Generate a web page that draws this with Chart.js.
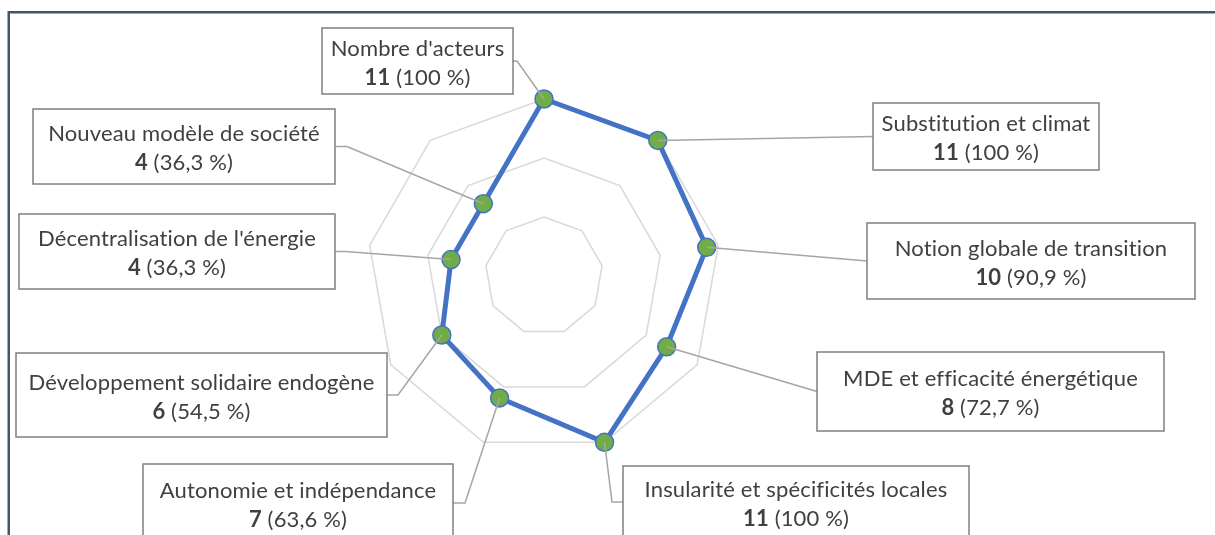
<!DOCTYPE html>
<html>
<head>
    <meta charset="utf-8">
    <script src="https://cdn.jsdelivr.net/npm/chart.js@4.4.1/dist/chart.umd.min.js"></script>
    <style>
        body { margin: 0; background: #ffffff; }
    </style>
</head>
<body>

    <canvas id="radarChart" width="1215" height="535"></canvas>

    <script>
        // données
        const categories = [
            "Nombre d'acteurs",
            "Substitution et climat",
            "Notion globale de transition",
            "MDE et efficacité énergétique",
            "Insularité et spécificités locales",
            "Autonomie et indépendance",
            "Développement solidaire endogène",
            "Décentralisation de l'énergie",
            "Nouveau modèle de société"
        ];
        const counts = [11, 11, 10, 8, 11, 7, 6, 4, 4];
        const percents = ["100", "100", "90,9", "72,7", "100", "63,6", "54,5", "36,3", "36,3"];
        const ringValues = [-4, 1, 6, 11];

        // placement des étiquettes (x, y, largeur, hauteur, côté du trait, longueur du coude)
        const labelBoxes = [
            { x: 322, y: 28,  w: 191, h: 66, side: 'right', stub: 4 },
            { x: 873, y: 103, w: 226, h: 67, side: 'left',  stub: 0 },
            { x: 867, y: 223, w: 328, h: 76, side: 'left',  stub: 0 },
            { x: 817, y: 352, w: 347, h: 79, side: 'left',  stub: 0 },
            { x: 623, y: 466, w: 346, h: 72, side: 'left',  stub: 11 },
            { x: 143, y: 464, w: 310, h: 78, side: 'right', stub: 12 },
            { x: 16,  y: 353, w: 371, h: 84, side: 'right', stub: 11 },
            { x: 19,  y: 214, w: 316, h: 75, side: 'right', stub: 10 },
            { x: 33,  y: 109, w: 302, h: 75, side: 'right', stub: 12 }
        ];

        const fontFamily = 'Lato, "Open Sans", sans-serif';
        const fontSize = 22;

        const calloutPlugin = {
            id: 'callouts',
            beforeDraw(chart) {
                const ctx = chart.ctx;
                ctx.save();
                ctx.strokeStyle = '#44546A';
                ctx.lineWidth = 2.5;
                ctx.beginPath();
                ctx.moveTo(8.75, 535);
                ctx.lineTo(8.75, 12.25);
                ctx.lineTo(1215, 12.25);
                ctx.stroke();
                ctx.restore();
            },
            afterDatasetsDraw(chart) {
                const ctx = chart.ctx;
                const points = chart.getDatasetMeta(0).data;
                ctx.save();

                // traits de rappel
                ctx.strokeStyle = '#A5A5A5';
                ctx.lineWidth = 1.5;
                points.forEach((pt, i) => {
                    const b = labelBoxes[i];
                    const ay = b.y + b.h / 2;
                    const ax = b.side === 'right' ? b.x + b.w : b.x;
                    const ex = b.side === 'right' ? ax + b.stub : ax - b.stub;
                    ctx.beginPath();
                    ctx.moveTo(pt.x, pt.y);
                    ctx.lineTo(ex, ay);
                    ctx.lineTo(ax, ay);
                    ctx.stroke();
                });

                // boîtes et textes
                ctx.letterSpacing = '0.15px';
                labelBoxes.forEach((b, i) => {
                    ctx.fillStyle = '#ffffff';
                    ctx.fillRect(b.x, b.y, b.w, b.h);
                    ctx.strokeStyle = '#7F7F7F';
                    ctx.lineWidth = 1.5;
                    ctx.strokeRect(b.x, b.y, b.w, b.h);

                    const cx = b.x + b.w / 2;
                    const cy = b.y + b.h / 2;
                    ctx.fillStyle = '#404040';
                    ctx.textBaseline = 'alphabetic';

                    ctx.font = fontSize + 'px ' + fontFamily;
                    ctx.textAlign = 'center';
                    ctx.fillText(categories[i], cx, cy - 5.5);

                    const boldTxt = String(counts[i]);
                    const restTxt = ' (' + percents[i] + ' %)';
                    ctx.font = 'bold ' + fontSize + 'px ' + fontFamily;
                    const wb = ctx.measureText(boldTxt).width;
                    ctx.font = fontSize + 'px ' + fontFamily;
                    const wr = ctx.measureText(restTxt).width;
                    const x0 = cx - (wb + wr) / 2;
                    ctx.textAlign = 'left';
                    ctx.font = 'bold ' + fontSize + 'px ' + fontFamily;
                    ctx.fillText(boldTxt, x0, cy + 23.5);
                    ctx.font = fontSize + 'px ' + fontFamily;
                    ctx.fillText(restTxt, x0 + wb, cy + 23.5);
                });
                ctx.restore();
            }
        };

        const ctx = document.getElementById('radarChart').getContext('2d');
        const radarChart = new Chart(ctx, {
            type: 'radar',
            data: {
                labels: categories,
                datasets: [{
                    data: counts,
                    borderColor: '#4472C4',
                    borderWidth: 5,
                    backgroundColor: 'rgba(0,0,0,0)',
                    fill: false,
                    pointBackgroundColor: '#70AD47',
                    pointBorderColor: '#4472C4',
                    pointBorderWidth: 1.5,
                    pointRadius: 9,
                    pointHoverRadius: 9,
                    tension: 0,
                    clip: false
                }]
            },
            options: {
                responsive: false,
                animation: false,
                layout: {
                    padding: { left: 366.5, right: 492.9, top: 98.5, bottom: 80.9 }
                },
                plugins: {
                    legend: { display: false },
                    tooltip: { enabled: false }
                },
                scales: {
                    r: {
                        min: -4,
                        max: 11,
                        afterBuildTicks: (scale) => {
                            scale.ticks = ringValues.map(v => ({ value: v }));
                        },
                        ticks: { display: false },
                        pointLabels: { display: false },
                        angleLines: { display: false },
                        grid: { color: '#D9D9D9', lineWidth: 1.5, circular: false }
                    }
                }
            },
            plugins: [calloutPlugin]
        });
    </script>
</body>
</html>
